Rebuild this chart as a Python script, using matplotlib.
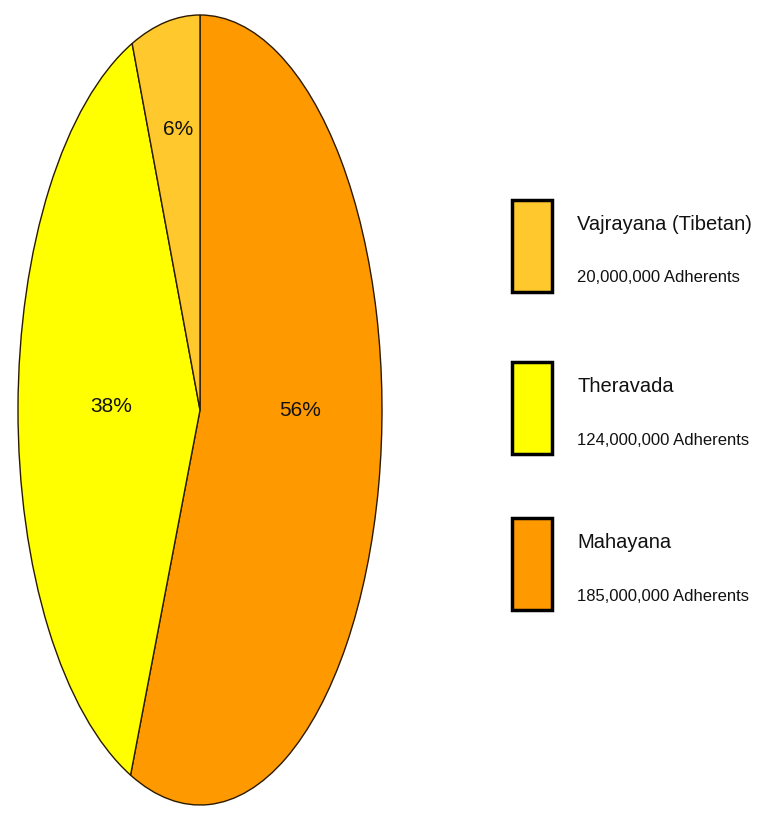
import matplotlib
matplotlib.use("Agg")
import matplotlib.pyplot as plt
from matplotlib.patches import Rectangle

names = ["Mahayana", "Theravada", "Vajrayana (Tibetan)"]
adherents = [185000000, 124000000, 20000000]
colors = ["#FF9900", "#FFFF00", "#FFC82C"]
pct_labels = ["56%", "38%", "6%"]

fam = ["Liberation Sans", "DejaVu Sans"]

W, H = 769, 822
fig = plt.figure(figsize=(W / 100, H / 100), dpi=100)

# pie axes (stretched ellipse)
ax = fig.add_axes([18 / W, 17 / H, 364 / W, 790 / H])
wedges, _ = ax.pie(adherents, colors=colors, startangle=90, counterclock=False,
                   wedgeprops=dict(edgecolor="#2a1a00", linewidth=1.0))
ax.set_aspect("auto")
ax.set_xlim(-1.0, 1.0)
ax.set_ylim(-1.0, 1.0)
ax.axis("off")

label_pos = [(0.55, 0.0), (-0.49, 0.01), (-0.12, 0.71)]
for lab, (x, y) in zip(pct_labels, label_pos):
    ax.text(x, y, lab, ha="center", va="center", fontsize=15, family=fam,
            color="#111111")

# legend (top to bottom: Vajrayana, Theravada, Mahayana)
box_tops = [200, 362, 518]
for i, top in zip([2, 1, 0], box_tops):
    r = Rectangle((512 / W, 1 - (top + 92) / H), 40 / W, 92 / H,
                  transform=fig.transFigure, facecolor=colors[i],
                  edgecolor="black", linewidth=2.5)
    fig.patches.append(r)
    fig.text(577 / W, 1 - (top + 24) / H, names[i], fontsize=14.5, family=fam,
             va="center", ha="left", color="#111111")
    fig.text(577 / W, 1 - (top + 78) / H, f"{adherents[i]:,} Adherents",
             fontsize=12, family=fam, va="center", ha="left", color="#111111")

fig.savefig("out.png", dpi=100)
